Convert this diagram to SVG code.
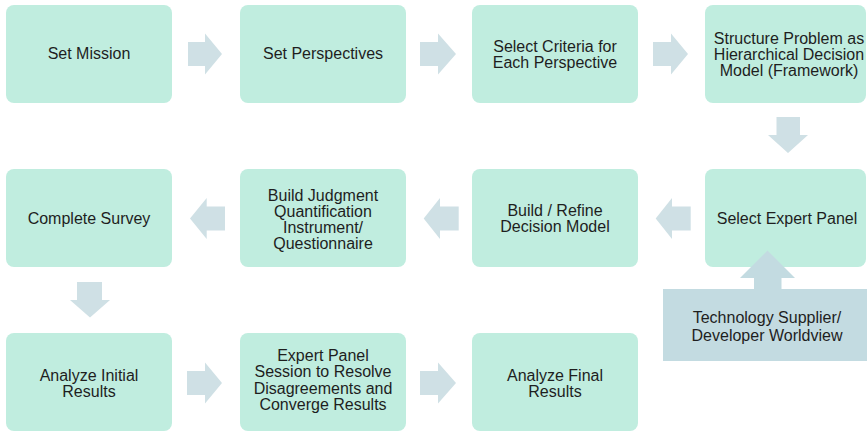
<svg xmlns="http://www.w3.org/2000/svg" width="867" height="433" viewBox="0 0 867 433">
  <style>
    .box { fill: #c0eddf; }
    .arrow { fill: #cfe0e5; }
    .input { fill: #c3dbe1; }
    text { font-family: "Liberation Sans", Arial, Helvetica, sans-serif; font-size: 16px; fill: #1e1e1e; text-anchor: middle; }
  </style>

  <rect width="867" height="433" fill="#ffffff"/>

  <!-- Row 1 -->
  <g id="set-mission">
    <rect class="box" x="6" y="5" width="166" height="98" rx="8"/>
    <text x="89" y="58.5">Set Mission</text>
  </g>
  <g id="set-perspectives">
    <rect class="box" x="240" y="5" width="166" height="98" rx="8"/>
    <text x="323" y="58.5">Set Perspectives</text>
  </g>
  <g id="select-criteria">
    <rect class="box" x="472" y="5" width="166" height="98" rx="8"/>
    <text x="555" y="51.5">Select Criteria for</text>
    <text x="555" y="67.5">Each Perspective</text>
  </g>
  <g id="structure-problem">
    <rect class="box" x="705" y="5" width="161" height="98" rx="8"/>
    <text x="789" y="43.5">Structure Problem as</text>
    <text x="789" y="59.5">Hierarchical Decision</text>
    <text x="789" y="75.5">Model (Framework)</text>
  </g>

  <!-- Row 2 -->
  <g id="complete-survey">
    <rect class="box" x="6" y="169" width="166" height="98" rx="8"/>
    <text x="89" y="223.5">Complete Survey</text>
  </g>
  <g id="build-instrument">
    <rect class="box" x="240" y="169" width="166" height="98" rx="8"/>
    <text x="323" y="200.5">Build Judgment</text>
    <text x="323" y="216.8">Quantification</text>
    <text x="323" y="233.1">Instrument/</text>
    <text x="323" y="249.4">Questionnaire</text>
  </g>
  <g id="build-refine-model">
    <rect class="box" x="472" y="169" width="166" height="98" rx="8"/>
    <text x="555" y="215.5">Build / Refine</text>
    <text x="555" y="231.5">Decision Model</text>
  </g>
  <g id="select-expert-panel">
    <rect class="box" x="705" y="169" width="161" height="98" rx="8"/>
    <text x="787" y="223.5">Select Expert Panel</text>
  </g>

  <!-- Row 3 -->
  <g id="analyze-initial">
    <rect class="box" x="6" y="333" width="166" height="98" rx="8"/>
    <text x="89" y="380.5">Analyze Initial</text>
    <text x="89" y="396.5">Results</text>
  </g>
  <g id="expert-panel-session">
    <rect class="box" x="240" y="333" width="166" height="98" rx="8"/>
    <text x="323" y="360.5">Expert Panel</text>
    <text x="323" y="377">Session to Resolve</text>
    <text x="323" y="393.5">Disagreements and</text>
    <text x="323" y="410">Converge Results</text>
  </g>
  <g id="analyze-final">
    <rect class="box" x="472" y="333" width="166" height="98" rx="8"/>
    <text x="555" y="380.5">Analyze Final</text>
    <text x="555" y="397">Results</text>
  </g>

  <!-- External input feeding the expert panel -->
  <g id="technology-supplier">
    <polygon class="input" points="767.5,250.5 795,278 781.5,278 781.5,289 867,289 867,361 663,361 663,289 754,289 754,278 740,278"/>
    <text x="767" y="323">Technology Supplier/</text>
    <text x="767" y="340.5">Developer Worldview</text>
  </g>

  <!-- Block arrows between steps -->
  <g id="connectors">
    <!-- row 1, left to right -->
    <polygon class="arrow" points="188,42 205,42 205,33.5 222,54 205,74.5 205,66 188,66"/>
    <polygon class="arrow" points="420,42 438,42 438,33.5 456,54 438,74.5 438,66 420,66"/>
    <polygon class="arrow" points="653,42 671,42 671,33.5 688,54 671,74.5 671,66 653,66"/>
    <!-- down from structure to expert panel -->
    <polygon class="arrow" points="776.5,117 800,117 800,135 808,135 788,153 768,135 776.5,135"/>
    <!-- row 2, right to left -->
    <polygon class="arrow" points="690.7,206.5 672,206.5 672,198 655.7,218.5 672,239 672,230.5 690.7,230.5"/>
    <polygon class="arrow" points="458.7,206.5 440,206.5 440,198 423.7,218.5 440,239 440,230.5 458.7,230.5"/>
    <polygon class="arrow" points="225,206.5 206.7,206.5 206.7,198 190,218.5 206.7,239 206.7,230.5 225,230.5"/>
    <!-- down from survey to initial results -->
    <polygon class="arrow" points="77,282 102,282 102,300 110,300 90,317.5 70,300 77,300"/>
    <!-- row 3, left to right -->
    <polygon class="arrow" points="187,371 205,371 205,362.5 222,383 205,403.5 205,395 187,395"/>
    <polygon class="arrow" points="420,371 438,371 438,362.5 456,383 438,403.5 438,395 420,395"/>
  </g>
</svg>
